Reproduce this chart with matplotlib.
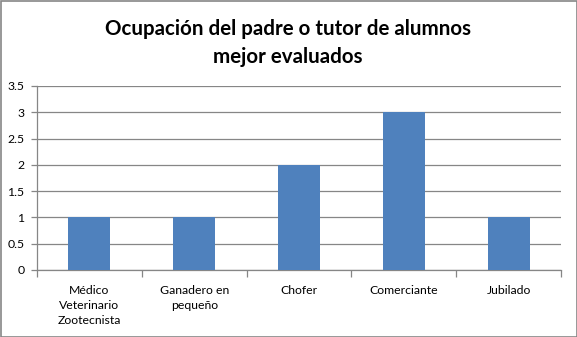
import matplotlib.pyplot as plt
from matplotlib.patches import Rectangle
import numpy as np

categorias = ['Médico\nVeterinario\nZootecnista', 'Ganadero en\npequeño', 'Chofer', 'Comerciante', 'Jubilado']
valores = [1, 1, 2, 3, 1]
yticks = [0, 0.5, 1, 1.5, 2, 2.5, 3, 3.5]
titulo = 'Ocupación del padre o tutor de alumnos\nmejor evaluados'

gris = '#868686'
azul = '#4F81BD'

fig = plt.figure(figsize=(5.77, 3.37), dpi=100)
fig.patches.append(Rectangle((0.5/577, 0.5/337), 1-1/577, 1-1/337, transform=fig.transFigure,
                             fill=False, edgecolor=gris, linewidth=1.2))
ax = fig.add_axes([37/577, 1-270/337, (561-37)/577, (270-86)/337])

x = np.arange(len(categorias))
ax.bar(x, valores, width=0.4, color=azul, zorder=3)
ax.set_xlim(-0.5, len(categorias)-0.5)
ax.set_ylim(0, 3.5)
ax.set_yticks(yticks)
ax.set_yticklabels([f'{v:g}' for v in yticks], fontsize=8.8, family='Lato')
ax.yaxis.grid(True, color=gris, linewidth=0.9, zorder=0)

ax.set_xticks(x)
ax.set_xticklabels(categorias, fontsize=8.8, family='Lato', linespacing=1.45, va='top')
ax.set_xticks(np.arange(len(categorias)+1)-0.5, minor=True)
ax.tick_params(axis='x', which='major', length=0, pad=11)
ax.tick_params(axis='x', which='minor', length=5, color=gris, width=0.9)
ax.tick_params(axis='y', length=4, color=gris, width=0.9, pad=5)

for s in ['top', 'right']:
    ax.spines[s].set_visible(False)
for s in ['left', 'bottom']:
    ax.spines[s].set_color(gris)
    ax.spines[s].set_linewidth(0.9)

fig.text(288/577, 1-43/337, titulo, ha='center', va='center', fontsize=14.8,
         fontweight='bold', family='Lato', linespacing=1.5)

fig.savefig('out.png', dpi=100)
